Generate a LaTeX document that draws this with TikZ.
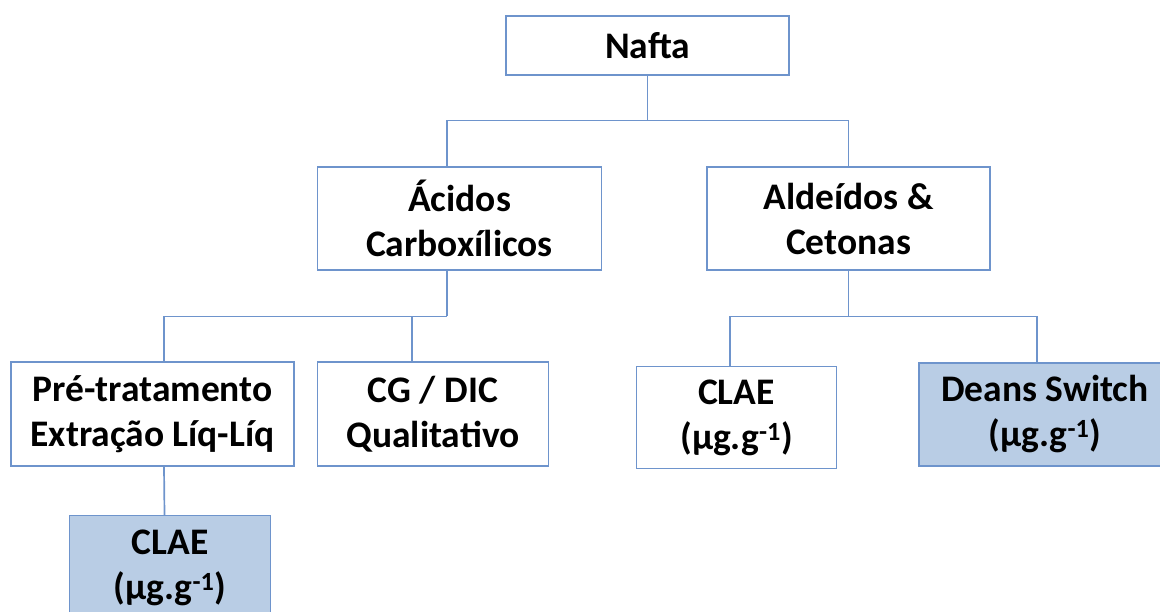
\documentclass[tikz,border=0pt]{standalone}
\usepackage{fontspec}
\setmainfont{Carlito}
\usetikzlibrary{positioning}
\definecolor{boxline}{RGB}{110,148,204}
\definecolor{boxfill}{RGB}{185,205,229}
\tikzset{
  box/.style={rectangle,draw=boxline,line width=1.4pt,fill=white,align=center,
    inner sep=0pt,font=\fontsize{37.5}{45}\selectfont\bfseries},
  result/.style={box,fill=boxfill},
  link/.style={draw=boxline,line width=1.7pt}
}

\begin{document}
\begin{tikzpicture}[x=1pt,y=-1pt]
\useasboundingbox (0,0) rectangle (1160,612);
\clip (0,0) rectangle (1160,612);

\node[box,minimum width=283pt,minimum height=59pt] (nafta) at (647.5,45.5) {Nafta};

\node[box,minimum width=284pt,minimum height=103pt] (acidos) at (459.5,218.5) {Ácidos\\Carboxílicos};
\node[box,minimum width=283pt,minimum height=103pt] (aldeidos) at (848.5,218.5) {Aldeídos \&\\Cetonas};

\node[box,minimum width=283pt,minimum height=104pt] (pre) at (152.5,414) {Pré-tratamento\\Extração Líq-Líq};
\node[box,minimum width=231pt,minimum height=104pt] (cgdic) at (433,414) {CG / DIC\\Qualitativo};
\node[box,minimum width=200pt,minimum height=102pt] (clae) at (736.5,417.5) {CLAE\\(µg.g\textsuperscript{-1})};
\node[result,minimum width=252pt,minimum height=103pt] (deans) at (1045,414.5) {Deans Switch\\(µg.g\textsuperscript{-1})};

\node[result,minimum width=201pt,minimum height=104pt] (claeb) at (170,567.5) {CLAE\\(µg.g\textsuperscript{-1})};

% bus lines
\coordinate (bus1) at (647.5,120.5);
\coordinate (bus2) at (447,316.5);
\coordinate (bus3) at (848.5,316.5);

\draw[link] (nafta.south) -- (bus1);
\draw[link] ([xshift=-12.5]acidos.north) |- (bus1) -| (aldeidos.north);

\draw[link] ([xshift=-12.5]acidos.south) -- (bus2);
\draw[link] ([xshift=11.5]pre.north) |- (bus2);
\draw[link] ([xshift=-21]cgdic.north) -- ([xshift=-21]cgdic.north |- bus2);

\draw[link] (aldeidos.south) -- (bus3);
\draw[link] ([xshift=-6.5]clae.north) |- (bus3) -| ([xshift=-8]deans.north);

\draw[link] ([xshift=11.5]pre.south) -- ([xshift=-5.5]claeb.north);

\end{tikzpicture}
\end{document}
